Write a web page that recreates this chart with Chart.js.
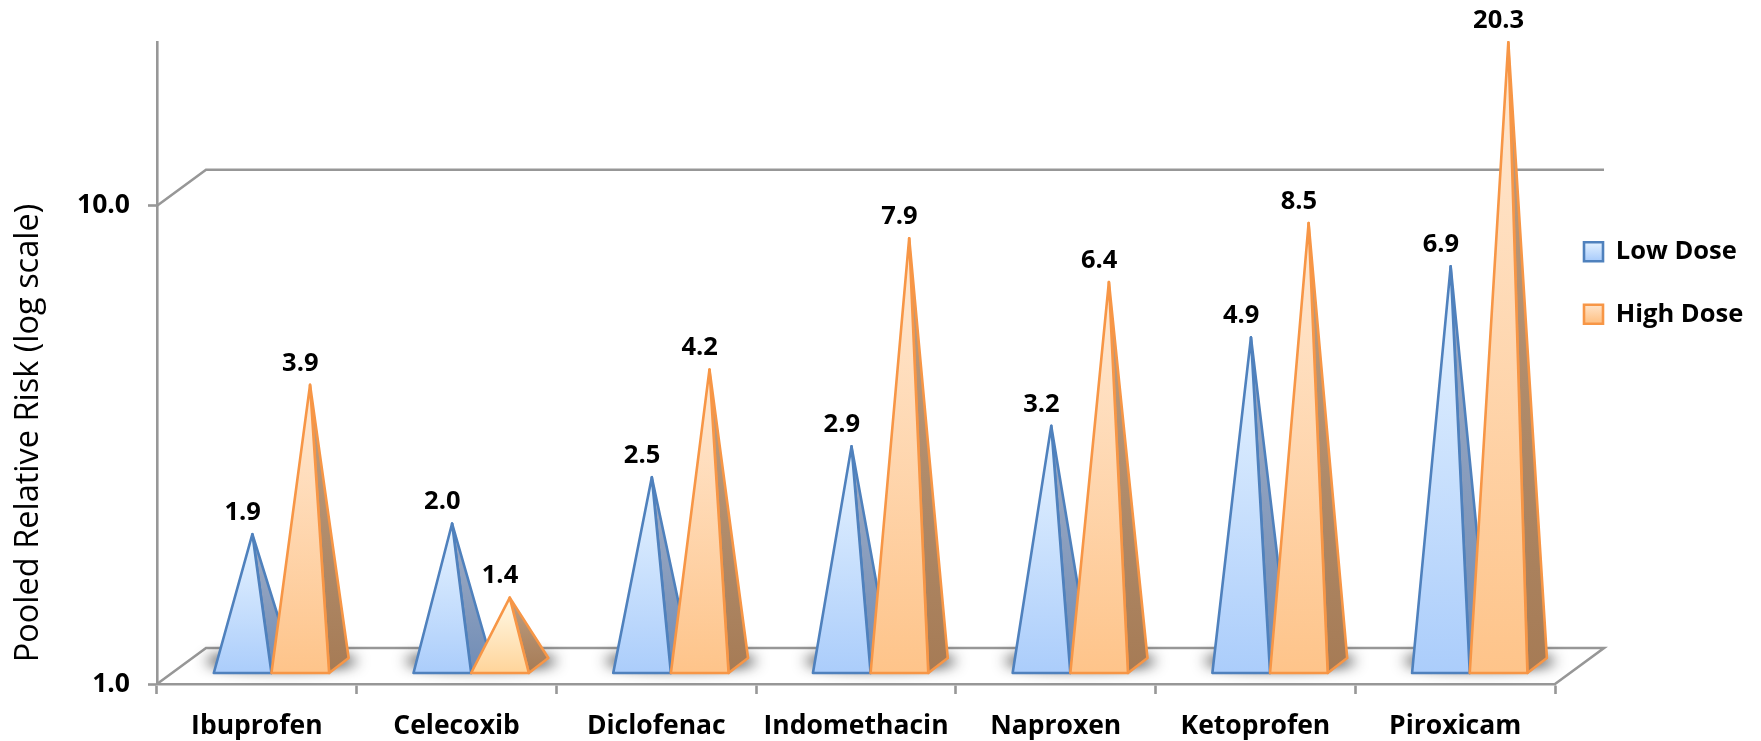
<!DOCTYPE html>
<html>
<head>
<meta charset="utf-8">
<title>Pooled relative risk by dose</title>
<script src="https://cdn.jsdelivr.net/npm/chart.js@4/dist/chart.umd.min.js"></script>
<style>
  body { margin: 0; background: #fff; }
  canvas { display: block; }
</style>
</head>
<body>
<canvas id="chart" width="1761" height="741"></canvas>
<script>
const drugs = ["Ibuprofen", "Celecoxib", "Diclofenac", "Indomethacin", "Naproxen", "Ketoprofen", "Piroxicam"];
const lowDose = [1.9, 2.0, 2.5, 2.9, 3.2, 4.9, 6.9];
const highDose = [3.9, 1.4, 4.2, 7.9, 6.4, 8.5, 20.3];
const yTicks = [1, 10];
const yLabel = "Pooled Relative Risk (log scale)";

const FONT = "'Open Sans'";
const AXIS_GREY = "#979797";
const LINE_W = 2.6;

// 3d look: how far the floor and wall recede, and where a pyramid sits on the floor
const WALL_DX = 49, WALL_DY = 36;
const BAR_SHIFT_X = 14.6, BAR_FRONT_Y = 11;
const BAR_DEPTH_X = 19.5, BAR_DEPTH_Y = 15;
const TIP_LIFT = 16.5;

const blue = { line: "#4f81bd", top: "#e8f4ff", bottom: "#abcdfb", sideTop: "#a3aec4", sideBottom: "#6f8cb6" };
const orange = { line: "#f79646", top: "#ffe9d4", bottom: "#fec48a", sideTop: "#bd9f84", sideBottom: "#a67b55", shortTop: "#fffae8", shortBottom: "#ffd49a" };

function vGradient(ctx, y0, y1, c0, c1) {
  const g = ctx.createLinearGradient(0, y0, 0, y1);
  g.addColorStop(0, c0);
  g.addColorStop(1, c1);
  return g;
}

// bar element that paints a pyramid inside the box the bar scale gives it
class PyramidBar extends Chart.BarElement {
  static id = "pyramidBar";

  draw(ctx) {
    const { x, y, base, width } = this.getProps(["x", "y", "base", "width"]);
    const pal = this.palette;
    const isShort = pal.shortTop && this.value < 1.5;
    const left = x + BAR_SHIFT_X - width / 2;
    const right = left + width;
    const front = base - BAR_FRONT_Y;
    const tipX = x + BAR_SHIFT_X + BAR_DEPTH_X / 2;
    const tipY = y - TIP_LIFT;

    ctx.save();
    ctx.lineJoin = "round";
    ctx.lineWidth = LINE_W;
    ctx.strokeStyle = pal.line;

    ctx.beginPath();
    ctx.moveTo(right, front);
    ctx.lineTo(right + BAR_DEPTH_X, front - BAR_DEPTH_Y);
    ctx.lineTo(tipX, tipY);
    ctx.closePath();
    ctx.fillStyle = vGradient(ctx, tipY, front, pal.sideTop, pal.sideBottom);
    ctx.fill();
    ctx.stroke();

    ctx.beginPath();
    ctx.moveTo(left, front);
    ctx.lineTo(right, front);
    ctx.lineTo(tipX, tipY);
    ctx.closePath();
    ctx.fillStyle = vGradient(ctx, tipY, front, isShort ? pal.shortTop : pal.top, isShort ? pal.shortBottom : pal.bottom);
    ctx.fill();
    ctx.stroke();
    ctx.restore();
  }
}

class PyramidController extends Chart.BarController {
  static id = "pyramid";
  static defaults = { dataElementType: "pyramidBar" };

  updateElements(bars, start, count, mode) {
    super.updateElements(bars, start, count, mode);
    const ds = this.getDataset();
    for (let i = start; i < start + count; i++) {
      bars[i].palette = ds.palette;
      bars[i].value = ds.data[i];
    }
  }
}

Chart.register(PyramidBar, PyramidController);

// floor, back wall line and the soft shadow under each pair of pyramids
const floorPlugin = {
  id: "floor",
  beforeDatasetsDraw(chart) {
    const { ctx, scales } = chart;
    const x0 = scales.x.left, x1 = scales.x.right;
    const floorY = scales.y.getPixelForValue(1);
    const wallY = scales.y.getPixelForValue(10);

    ctx.save();
    ctx.strokeStyle = AXIS_GREY;
    ctx.lineWidth = LINE_W;
    ctx.beginPath();
    ctx.moveTo(x0, floorY);
    ctx.lineTo(x0 + WALL_DX, floorY - WALL_DY);
    ctx.lineTo(x1 + WALL_DX, floorY - WALL_DY);
    ctx.lineTo(x1, floorY);
    ctx.moveTo(x0, wallY);
    ctx.lineTo(x0 + WALL_DX, wallY - WALL_DY);
    ctx.lineTo(x1 + WALL_DX, wallY - WALL_DY);
    ctx.stroke();

    ctx.filter = "blur(7px)";
    ctx.fillStyle = "rgba(20,20,20,0.9)";
    drugs.forEach((_, i) => {
      const cx = scales.x.getPixelForValue(i) + BAR_SHIFT_X + BAR_DEPTH_X / 2;
      ctx.beginPath();
      ctx.ellipse(cx, floorY - 23, 76, 8, 0, 0, Math.PI * 2);
      ctx.fill();
    });
    ctx.restore();
  },
  // chart.js paints the last dataset first; the high dose pyramids have to end up in front
  beforeDatasetDraw(chart, args) {
    if (args.index === 0) return false;
    chart.getDatasetMeta(0).controller.draw();
  },
  // value labels sit above the tips, centred on the front face
  afterDatasetsDraw(chart) {
    const { ctx } = chart;
    ctx.save();
    ctx.font = "bold 25.5px " + FONT;
    ctx.fillStyle = "#000";
    ctx.textAlign = "center";
    ctx.textBaseline = "middle";
    chart.data.datasets.forEach((ds, d) => {
      chart.getDatasetMeta(d).data.forEach((bar, i) => {
        ctx.fillText(ds.data[i].toFixed(1), bar.x + BAR_SHIFT_X, bar.y - TIP_LIFT - 21.5);
      });
    });
    ctx.restore();
  },
  // axis title hangs lower than the middle of the axis, so the scale's own title won't do
  afterDraw(chart) {
    const { ctx } = chart;
    ctx.save();
    ctx.translate(29, 433);
    ctx.rotate(-Math.PI / 2);
    ctx.font = "32.5px " + FONT;
    ctx.fillStyle = "#000";
    ctx.textAlign = "center";
    ctx.textBaseline = "middle";
    ctx.fillText(yLabel, 0, 0);
    ctx.restore();
  },
  // legend floats in the empty strip right of the plot
  afterLayout(chart) {
    const lg = chart.legend;
    lg.left = 1547;
    lg.top = 202;
    lg.right = chart.width;
    lg.bottom = chart.height;
  }
};

new Chart(document.getElementById("chart"), {
  type: "pyramid",
  data: {
    labels: drugs,
    datasets: [
      { label: "Low Dose", data: lowDose, palette: blue, clip: false, backgroundColor: blue.bottom, borderColor: blue.line },
      { label: "High Dose", data: highDose, palette: orange, clip: false, backgroundColor: orange.bottom, borderColor: orange.line }
    ]
  },
  plugins: [floorPlugin],
  options: {
    responsive: false,
    animation: false,
    layout: { padding: { left: 0, top: 42, right: 206, bottom: 0 } },
    categoryPercentage: 0.5775,
    barPercentage: 1,
    plugins: {
      tooltip: { enabled: false },
      legend: {
        position: "chartArea",
        align: "start",
        labels: {
          boxWidth: 19,
          boxHeight: 19,
          padding: 37,
          color: "#000",
          font: { family: FONT, size: 25.5, weight: "bold" },
          generateLabels(chart) {
            return chart.data.datasets.map((ds, i) => ({
              text: ds.label,
              datasetIndex: i,
              fillStyle: vGradient(chart.ctx, 241 + i * 61, 260 + i * 61, ds.palette.top, ds.palette.bottom),
              strokeStyle: ds.palette.line,
              lineWidth: LINE_W
            }));
          }
        }
      }
    },
    scales: {
      x: {
        offset: true,
        afterFit(s) { s.height = 57; },
        border: { color: AXIS_GREY, width: LINE_W },
        grid: { offset: true, drawOnChartArea: false, tickLength: 10, tickColor: AXIS_GREY, tickWidth: LINE_W },
        ticks: { color: "#000", padding: 17, maxRotation: 0, font: { family: FONT, size: 26.5, weight: "bold" } }
      },
      y: {
        type: "logarithmic",
        min: 1,
        max: 22,
        afterBuildTicks(s) { s.ticks = yTicks.map(v => ({ value: v })); },
        afterFit(s) { s.width = 157; },
        border: { color: AXIS_GREY, width: LINE_W },
        grid: { drawOnChartArea: false, tickLength: 9, tickColor: AXIS_GREY, tickWidth: LINE_W },
        ticks: {
          color: "#000",
          padding: 18,
          font: { family: FONT, size: 26.5, weight: "bold" },
          callback: v => v.toFixed(1)
        }
      }
    }
  }
});
</script>
</body>
</html>
